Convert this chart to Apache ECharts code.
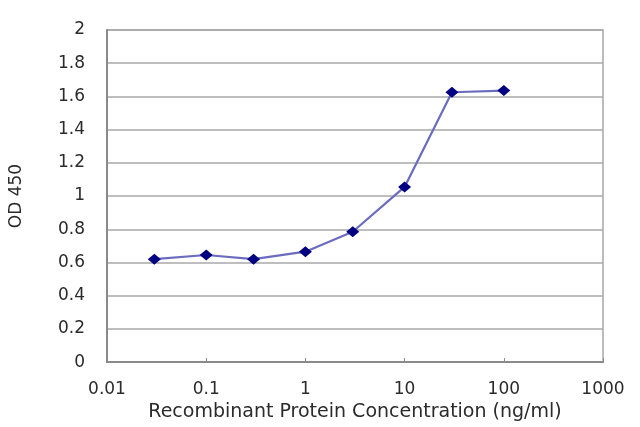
<!DOCTYPE html>
<html>
<head>
<meta charset="utf-8">
<script src="https://cdn.jsdelivr.net/npm/echarts@6/dist/echarts.min.js"></script>
<style>
html,body{margin:0;padding:0;background:#fff;}
#chart{width:640px;height:427px;}
</style>
</head>
<body>
<div id="chart"></div>
<script>
var concentrations = [0.03, 0.1, 0.3, 1, 3, 10, 30, 100];
var od450 = [0.62, 0.645, 0.62, 0.665, 0.785, 1.055, 1.625, 1.635];
var xTickLabels = ['0.01', '0.1', '1', '10', '100', '1000'];
var xAxisTitle = 'Recombinant Protein Concentration (ng/ml)';
var yAxisTitle = 'OD 450';

var points = concentrations.map(function (c, i) { return [c, od450[i]]; });
var font = 'DejaVu Sans';
var chart = echarts.init(document.getElementById('chart'));
chart.setOption({
  animation: false,
  backgroundColor: '#ffffff',
  grid: { left: 106, right: 37, top: 30, bottom: 63, show: true, borderColor: '#a8a8a8', borderWidth: 1.5 },
  xAxis: {
    type: 'log', logBase: 10, min: 0.01, max: 1000,
    name: xAxisTitle, nameLocation: 'middle', nameGap: 37,
    nameTextStyle: { fontFamily: font, fontSize: 19, color: '#2b2b2b' },
    axisLine: { lineStyle: { color: '#8a8a8a', width: 2 } },
    axisTick: { show: true, inside: true, length: 4, lineStyle: { color: '#8a8a8a' } },
    minorTick: { show: false },
    splitLine: { show: false },
    axisLabel: {
      fontFamily: font, fontSize: 17, color: '#2b2b2b', margin: 19,
      formatter: function (v) {
        var e = Math.round(Math.log10(v));
        return xTickLabels[e + 2] !== undefined ? xTickLabels[e + 2] : String(v);
      }
    }
  },
  yAxis: {
    type: 'value', min: 0, max: 2, interval: 0.2,
    name: yAxisTitle, nameLocation: 'middle', nameGap: 82, nameRotate: 90,
    nameTextStyle: { fontFamily: font, fontSize: 17, color: '#2b2b2b' },
    axisLine: { show: true, lineStyle: { color: '#8a8a8a', width: 2 } },
    axisTick: { show: false },
    splitLine: { lineStyle: { color: '#a8a8a8', width: 1.5 } },
    axisLabel: { fontFamily: font, fontSize: 17, color: '#2b2b2b', margin: 22 }
  },
  series: [{
    type: 'line',
    data: points,
    symbol: 'diamond',
    symbolSize: [13, 11],
    lineStyle: { color: '#6b6bc0', width: 2.2 },
    itemStyle: { color: '#000080' }
  }]
});
</script>
</body>
</html>
